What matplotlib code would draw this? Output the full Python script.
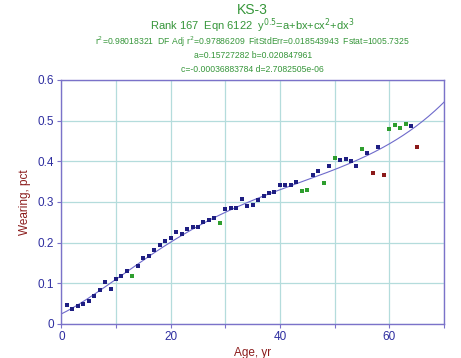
import numpy as np
import matplotlib
matplotlib.use('Agg')
import matplotlib.pyplot as plt
import matplotlib.ticker as mticker

plt.rcParams['font.family'] = ['Liberation Sans', 'DejaVu Sans']

# points
blue_x = [1, 2, 3, 4, 5, 6, 7, 8, 9, 10, 11, 12, 14, 15, 16, 17, 18, 19, 20, 21,
          22, 23, 24, 25, 26, 27, 28, 30, 31, 32, 33, 34, 35, 36, 37, 38, 39, 40,
          41, 42, 43, 46, 47, 49, 51, 52, 53, 54, 56, 58, 64]
blue_y = [0.047, 0.037, 0.044, 0.048, 0.056, 0.070, 0.084, 0.103, 0.085, 0.111,
          0.117, 0.130, 0.143, 0.161, 0.168, 0.183, 0.195, 0.205, 0.211, 0.226,
          0.221, 0.233, 0.239, 0.239, 0.250, 0.256, 0.260, 0.282, 0.285, 0.285,
          0.307, 0.290, 0.293, 0.305, 0.315, 0.321, 0.325, 0.342, 0.341, 0.342,
          0.350, 0.366, 0.376, 0.388, 0.402, 0.406, 0.401, 0.389, 0.421, 0.434,
          0.487]
green_x = [13, 29, 44, 45, 48, 50, 55, 60, 61, 62, 63]
green_y = [0.117, 0.249, 0.327, 0.330, 0.347, 0.409, 0.431, 0.479, 0.489, 0.481, 0.492]
red_x = [57, 59, 65]
red_y = [0.370, 0.367, 0.436]

# fit coefficients from the header
a, b, c, d = 0.15727282, 0.020847961, -0.00036883784, 2.7082505e-06

spine_col = '#7B72C9'
grid_col = '#B4DCDC'
tick_col = '#2E2EA0'
lab_col = '#8B1C1C'
title_col = '#36963A'

fig = plt.figure(figsize=(4.61, 3.58), dpi=100)
ax = fig.add_axes([0.133, 0.095, 0.830, 0.682])

xf = np.linspace(0, 70, 300)
yf = (a + b*xf + c*xf**2 + d*xf**3)**2
ax.plot(xf, yf, color='#6E6ACB', lw=0.8, zorder=2)

ax.scatter(blue_x, blue_y, marker='s', s=5.5, color='#1E1E82', lw=0, zorder=3)
ax.scatter(green_x, green_y, marker='s', s=5.5, color='#2E9E2E', lw=0, zorder=3)
ax.scatter(red_x, red_y, marker='s', s=5.5, color='#8B1A1A', lw=0, zorder=3)

ax.set_xlim(0, 70)
ax.set_ylim(0, 0.6)
ax.xaxis.set_major_locator(mticker.MultipleLocator(10))
ax.yaxis.set_major_locator(mticker.MultipleLocator(0.1))
ax.xaxis.set_major_formatter(mticker.FuncFormatter(
    lambda v, p: '%d' % v if int(round(v)) % 20 == 0 else ''))
ax.yaxis.set_major_formatter(mticker.FuncFormatter(
    lambda v, p: '0' if abs(v) < 1e-9 else '%.1f' % v))
ax.grid(color=grid_col, lw=0.9)
ax.set_axisbelow(True)
for s in ax.spines.values():
    s.set_color(spine_col)
    s.set_linewidth(1.0)
ax.tick_params(direction='out', length=3, width=0.8, color=spine_col,
               labelcolor=tick_col, labelsize=8.5, pad=2)

ax.set_xlabel('Age, yr', color=lab_col, fontsize=8.5, labelpad=3)
ax.set_ylabel('Wearing, pct', color=lab_col, fontsize=8.5, labelpad=5)

cx = 0.133 + 0.830/2
fig.text(cx, 1 - 10/358, 'KS-3', color=title_col, fontsize=10, ha='center', va='center')
fig.text(cx, 1 - 26/358, r'Rank 167  Eqn 6122  y$^{0.5}$=a+bx+cx$^{2}$+dx$^{3}$',
         color=title_col, fontsize=8, ha='center', va='center')
fig.text(cx, 1 - 42/358,
         r'r$^{2}$=0.98018321  DF Adj r$^{2}$=0.97886209  FitStdErr=0.018543943  Fstat=1005.7325',
         color=title_col, fontsize=6.2, ha='center', va='center')
fig.text(cx, 1 - 56/358, 'a=0.15727282 b=0.020847961',
         color=title_col, fontsize=6.2, ha='center', va='center')
fig.text(cx, 1 - 70/358, 'c=-0.00036883784 d=2.7082505e-06',
         color=title_col, fontsize=6.2, ha='center', va='center')

fig.savefig('out.png', dpi=100)
